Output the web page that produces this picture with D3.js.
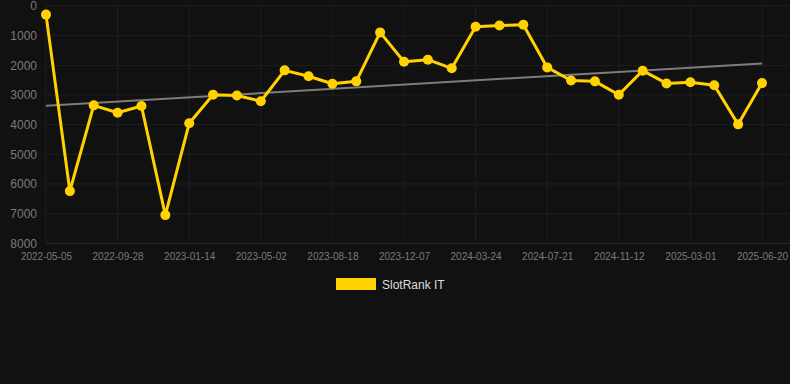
<!DOCTYPE html>
<html lang="en">
  <head>
    <meta charset="UTF-8" />
    <title>SlotRank IT</title>
    <script src="https://d3js.org/d3.v7.min.js"></script>
    <style>
      html,
      body {
        margin: 0;
        padding: 0;
        background: #111111;
      }
      svg {
        display: block;
        font-family: "Liberation Sans", Arial, sans-serif;
      }
    </style>
  </head>
  <body>
    <div id="chart"></div>
    <script>
      // rank values, one per sample (lower is better, axis is reversed)
      const ranks = [
        290, 6240, 3350, 3600, 3370, 7050, 3955, 2990, 3020, 3210, 2170, 2370,
        2620, 2540, 890, 1880, 1810, 2100, 700, 660, 630, 2070, 2510, 2540,
        2990, 2180, 2610, 2570, 2670, 3990, 2600,
      ];
      // x labels, shown on every third sample
      const tickLabels = [
        "2022-05-05", "2022-09-28", "2023-01-14", "2023-05-02", "2023-08-18",
        "2023-12-07", "2024-03-24", "2024-07-21", "2024-11-12", "2025-03-01",
        "2025-06-20",
      ];
      const yTicks = [0, 1000, 2000, 3000, 4000, 5000, 6000, 7000, 8000];
      const seriesName = "SlotRank IT";

      const width = 790,
        height = 384;
      const plotLeft = 46,
        plotRight = 762,
        plotTop = 6,
        plotBottom = 243.3;

      const svg = d3
        .select("#chart")
        .append("svg")
        .attr("width", width)
        .attr("height", height);

      const idx = d3.range(ranks.length);
      const x = d3.scalePoint().domain(idx).range([plotLeft, plotRight]);
      const y = d3.scaleLinear().domain([0, 8000]).range([plotTop, plotBottom]);

      // grid
      const tickIdx = idx.filter((i) => i % 3 === 0);
      svg
        .append("g")
        .selectAll("line")
        .data(yTicks)
        .enter()
        .append("line")
        .attr("x1", plotLeft)
        .attr("x2", width)
        .attr("y1", (d) => y(d))
        .attr("y2", (d) => y(d))
        .attr("stroke", (d) => (d === 8000 ? "#2c2c2c" : "#1f1f1f"))
        .attr("stroke-width", 1);
      svg
        .append("g")
        .selectAll("line")
        .data(tickIdx)
        .enter()
        .append("line")
        .attr("x1", (d) => x(d))
        .attr("x2", (d) => x(d))
        .attr("y1", plotTop)
        .attr("y2", plotBottom)
        .attr("stroke", "#1f1f1f")
        .attr("stroke-width", 1);

      // y axis labels
      const yAxis = d3
        .axisLeft(y)
        .tickValues(yTicks)
        .tickFormat(d3.format("d"))
        .tickSize(0)
        .tickPadding(0);
      svg
        .append("g")
        .attr("transform", "translate(37,0)")
        .call(yAxis)
        .call((g) => g.select(".domain").remove())
        .selectAll("text")
        .attr("fill", "#7a7a7a")
        .attr("font-size", 12)
        .attr("font-family", "Liberation Sans, Arial, sans-serif");

      // x axis labels
      const xAxis = d3
        .axisBottom(x)
        .tickValues(tickIdx)
        .tickFormat((d) => tickLabels[d / 3])
        .tickSize(0)
        .tickPadding(0);
      svg
        .append("g")
        .attr("transform", `translate(0,${plotBottom + 10})`)
        .call(xAxis)
        .call((g) => g.select(".domain").remove())
        .selectAll("text")
        .attr("fill", "#7a7a7a")
        .attr("font-size", 10)
        .attr("font-family", "Liberation Sans, Arial, sans-serif");

      // linear trend
      const mx = d3.mean(idx),
        my = d3.mean(ranks);
      const slope =
        d3.sum(idx, (i) => (i - mx) * (ranks[i] - my)) /
        d3.sum(idx, (i) => (i - mx) * (i - mx));
      const trend = (i) => my + slope * (i - mx);
      svg
        .append("line")
        .attr("x1", x(0))
        .attr("x2", x(idx.length - 1))
        .attr("y1", y(trend(0)))
        .attr("y2", y(trend(idx.length - 1)))
        .attr("stroke", "#7d7d7d")
        .attr("stroke-width", 2);

      // series line + points
      const line = d3
        .line()
        .x((d, i) => x(i))
        .y((d) => y(d));
      svg
        .append("path")
        .datum(ranks)
        .attr("d", line)
        .attr("fill", "none")
        .attr("stroke", "#FFD200")
        .attr("stroke-width", 3)
        .attr("stroke-linejoin", "round");
      svg
        .append("g")
        .selectAll("circle")
        .data(ranks)
        .enter()
        .append("circle")
        .attr("cx", (d, i) => x(i))
        .attr("cy", (d) => y(d))
        .attr("r", 5)
        .attr("fill", "#FFD200");

      // legend
      const legend = svg.append("g").attr("transform", "translate(336,278)");
      legend
        .append("rect")
        .attr("width", 40)
        .attr("height", 12)
        .attr("fill", "#FFD200");
      legend
        .append("text")
        .attr("x", 46)
        .attr("y", 10.5)
        .attr("fill", "#dddddd")
        .attr("font-size", 12)
        .text(seriesName);
    </script>
  </body>
</html>
